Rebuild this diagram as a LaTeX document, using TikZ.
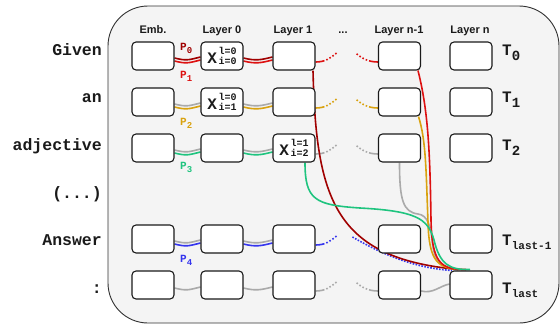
\documentclass[tikz,border=0pt]{standalone}
\usepackage{fontspec}
\setmainfont{Liberation Sans}
\newfontfamily\monofam{Liberation Mono}
\usetikzlibrary{calc}
\pgfdeclarelayer{bg}
\pgfdeclarelayer{links}
\pgfsetlayers{bg,links,main}
\definecolor{panelc}{HTML}{F4F4F4}
\definecolor{dred}{HTML}{A00000}
\definecolor{lred}{HTML}{DD1111}
\definecolor{goldc}{HTML}{D9A20F}
\definecolor{greenc}{HTML}{1FC47F}
\definecolor{bluec}{HTML}{3535EE}
\definecolor{grayc}{HTML}{AAAAAA}
\definecolor{ink}{HTML}{1A1A1A}
\newcommand{\xlbl}[2]{{\fontsize{16}{16}\selectfont X}\hspace{1.5pt}\makebox[0pt][l]{\raisebox{8.5pt}{\fontsize{10}{10}\selectfont l=#1}}\raisebox{-1.5pt}{\fontsize{10}{10}\selectfont i=#2}}
\newcommand{\tsubd}[1]{T\raisebox{-5pt}{\fontsize{14}{14}\selectfont #1}}
\newcommand{\tsubw}[1]{T\raisebox{-4pt}{\fontsize{11}{11}\selectfont #1}}
\newcommand{\psub}[1]{P\raisebox{-3pt}{\fontsize{9}{9}\selectfont #1}}
\newcommand{\pairlink}[4]{%
  \draw[lnk,#3] ($(#1.east)+(0,2)$) .. controls +(12,3) and +(-12,3) .. ($(#2.west)+(0,1)$);
  \draw[lnk,#4] ($(#1.east)+(0,5)$) .. controls +(12,3) and +(-12,3) .. ($(#2.west)+(0,4)$);}
\newcommand{\onelink}[3]{%
  \draw[lnk,#3] ($(#1.east)+(0,3)$) .. controls +(12,3) and +(-12,3) .. ($(#2.west)+(0,2)$);}
\begin{document}
\begin{tikzpicture}[x=1pt,y=-1pt,
  box/.style={draw=ink, line width=1.1pt, fill=white, rounded corners=4pt,
    minimum width=42pt, minimum height=28pt, inner sep=0pt,
    font=\monofam\bfseries, text=ink},
  hdr/.style={font=\bfseries\fontsize{11}{11}\selectfont, text=ink, anchor=base},
  tok/.style={font=\monofam\bfseries\fontsize{16.5}{16.5}\selectfont, anchor=base east, text=ink, inner sep=0pt},
  tlab/.style={font=\monofam\bfseries\fontsize{16}{16}\selectfont, anchor=base west, text=ink, inner sep=0pt},
  plab/.style={font=\monofam\bfseries\fontsize{11}{11}\selectfont, anchor=base west, inner sep=0pt},
  lnk/.style={line width=1.6pt},
  dotend/.style={lnk, dash pattern=on 9pt off 2pt on 1.6pt off 2pt on 1.6pt off 2pt on 1.6pt off 2pt on 1.6pt off 2pt on 1.6pt off 2pt on 1.6pt off 40pt},
  dotall/.style={lnk, dash pattern=on 1.6pt off 1.4pt}]
\useasboundingbox (0,0) rectangle (560,325);
\begin{pgfonlayer}{bg}
  \draw[fill=panelc, draw=ink!90, line width=0.9pt, rounded corners=40pt] (108,6) rectangle (559,323);
\end{pgfonlayer}
% headers
\node[hdr] (hE) at (153,33) {Emb.};
\node[hdr] (h0) at (222,33) {Layer 0};
\node[hdr] (h1) at (293,33) {Layer 1};
\node[hdr] (hd) at (343,33) {...};
\node[hdr] (hm) at (399,33) {Layer n-1};
\node[hdr] (hn) at (470,33) {Layer n};
% tokens
\node[tok] (w0) at (102,55) {Given};
\node[tok] (w1) at (102,102.7) {an};
\node[tok] (w2) at (102,150.4) {adjective};
\node[tok] (w3) at (102,198.1) {(...)};
\node[tok] (w4) at (102,245.8) {Answer};
\node[tok] (w5) at (102,293.5) {:};
% boxes
\foreach \r/\y in {0/56,1/102,2/148,4/239,5/285}{
  \node[box] (E\r) at (153,\y) {};
  \node[box] (M\r) at (399.5,\y) {};
  \node[box] (N\r) at (471,\y) {};
}
\node[box] (A0) at (222,56) {\xlbl{0}{0}};
\node[box] (A1) at (222,102) {\xlbl{0}{1}};
\node[box] (A2) at (222,148) {};
\node[box] (A4) at (222,239) {};
\node[box] (A5) at (222,285) {};
\node[box] (B0) at (294,56) {};
\node[box] (B1) at (294,102) {};
\node[box] (B2) at (294,148) {\xlbl{1}{2}};
\node[box] (B4) at (294,239) {};
\node[box] (B5) at (294,285) {};
% T labels
\node[tlab] (t0) at (502,55) {\tsubd{0}};
\node[tlab] (t1) at (502,102.7) {\tsubd{1}};
\node[tlab] (t2) at (502,150.4) {\tsubd{2}};
\node[tlab] (t4) at (502,245.8) {\tsubw{last-1}};
\node[tlab] (t5) at (502,293.5) {\tsubw{last}};
% P labels
\node[plab, text=dred] (p0) at (180,50) {\psub{0}};
\node[plab, text=lred] (p1) at (180,78) {\psub{1}};
\node[plab, text=goldc] (p2) at (180,125) {\psub{2}};
\node[plab, text=greenc] (p3) at (180,169) {\psub{3}};
\node[plab, text=bluec] (p4) at (180,262) {\psub{4}};
% dot-end coordinates
\foreach \r in {0,1,2,4,5}{
  \coordinate (dl\r) at ($(B\r.east)+(21,-3)$);
  \coordinate (dr\r) at ($(M\r.west)+(-22.5,-3)$);
}
\begin{pgfonlayer}{links}
  \pairlink{E0}{A0}{dred}{lred}
  \pairlink{A0}{B0}{dred}{lred}
  \pairlink{E1}{A1}{grayc}{goldc}
  \pairlink{A1}{B1}{grayc}{goldc}
  \pairlink{E2}{A2}{grayc}{greenc}
  \pairlink{A2}{B2}{grayc}{greenc}
  \pairlink{E4}{A4}{grayc}{bluec}
  \pairlink{A4}{B4}{grayc}{bluec}
  \onelink{E5}{A5}{grayc}
  \onelink{A5}{B5}{grayc}
  \draw[lnk,grayc] ($(M5.east)+(0,6)$) .. controls +(12,3) and +(-10,2) .. ($(N5.west)+(0,-1)$);
  % dotted continuations
  \foreach \r/\c in {0/lred,1/goldc,2/grayc,4/bluec,5/grayc}{
    \draw[dotend,\c] ($(B\r.east)+(0,6)$) .. controls +(10,0) and +(-6,5) .. (dl\r);
  }
  \foreach \r/\c in {0/lred,1/goldc,2/grayc,5/grayc}{
    \draw[dotend,\c] ($(M\r.west)+(0,6)$) .. controls +(-10,0) and +(6,5) .. (dr\r);
  }
  % long paths to T_last
  \coordinate (bs) at ($(M4.west)+(-25.5,-2)$);
  \draw[lnk,grayc] (M2.south) .. controls (399.5,200) and (403,212) .. (418,214)
     .. controls (428,215) and (431,228) .. (432,240)
     .. controls (434,262) and (442,269) .. ($(N5.north)+(-11,-1)$);
  \draw[dotall,bluec] (bs) .. controls (375,250) and (410,268) .. ($(N5.north)+(-19,0)$);
  \draw[lnk,dred] ($(B0.south)+(19,0)$) .. controls (316,200) and (335,258) .. ($(N5.north)+(-13,-1)$);
  \draw[lnk,goldc] ($(M1.south)+(19,0)$) .. controls (426,140) and (426,170) .. (428,222)
     .. controls (429,262) and (438,269) .. ($(N5.north)+(-9,-1)$);
  \draw[lnk,lred] ($(M0.south)+(18.5,0)$) .. controls (428,110) and (430,150) .. (431,220)
     .. controls (432,262) and (440,270) .. ($(N5.north)+(-5,-1)$);
  \draw[lnk,greenc] ($(B2.south)+(11,0)$) .. controls (305,200) and (315,205) .. (360,208)
     .. controls (415,211) and (428,218) .. (434,240)
     .. controls (440,265) and (450,270) .. ($(N5.north)+(-1,-1)$);
\end{pgfonlayer}
\end{tikzpicture}
\end{document}
